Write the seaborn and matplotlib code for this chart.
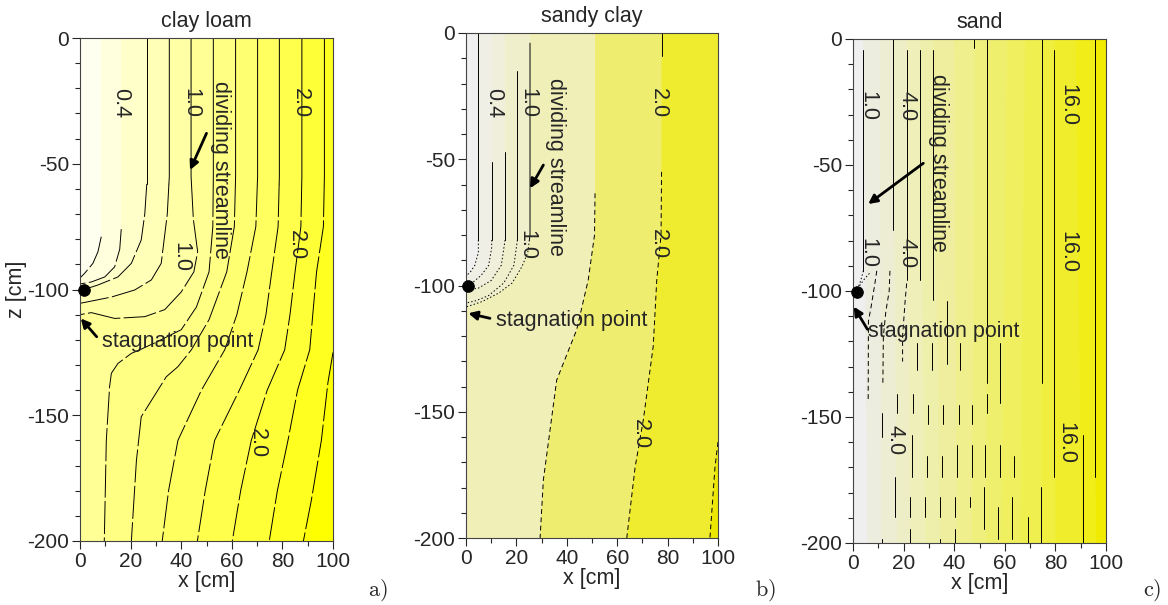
import matplotlib
matplotlib.use("Agg")
import matplotlib.pyplot as plt
import pandas as pd
import seaborn as sns
from matplotlib.ticker import MultipleLocator

# ------------------------------------------------------------------ data
titles = ["clay loam", "sandy clay", "sand"]
tags = ["a)", "b)", "c)"]
x_ticks = [0, 20, 40, 60, 80, 100]
z_ticks = [0, -50, -100, -150, -200]

# a) clay loam: streamlines (x [cm], z [cm]), ordered right -> left
clay_x = [
    [100, 98, 95.4, 91.4, 88.3],
    [96.6, 96.6, 96.2, 93.5, 92.0, 90.8, 86.0, 82.2, 78.0, 74.8],
    [87.7, 87.7, 87.3, 85.0, 83.0, 80.9, 74.0, 67.7, 63.5, 60.2],
    [78.8, 78.8, 78.3, 75.8, 73.5, 70.4, 63.0, 53.2, 49.5, 46.4],
    [70.2, 70.2, 69.5, 66.0, 62.0, 57.2, 48.0, 38.7, 35.0, 32.5],
    [61.5, 61.5, 61.0, 58.0, 51.0, 44.0, 38.7, 34.1, 30.8, 27.5, 24.2, 22.3, 20.3],
    [52.7, 52.7, 52.5, 51.0, 46.0, 40.0, 30.0, 23.6, 20.3, 15.0, 12.4, 11.7, 10.4, 9.6],
    [43.9, 43.9, 44.8, 46.5, 45.0, 40.0, 33.5, 25.6, 13.7, 4.5, 0.0],
    [35.3, 35.3, 34.5, 32.1, 28.2, 21.6, 12.4, 5.0, 0.0],
    [26.4, 26.4, 25.6, 24.2, 20.3, 15.0, 7.1, 1.6],
    [16.3, 15.7, 13.7, 9.8, 4.5, 0.0],
    [8.4, 7.1, 5.1, 1.8, 0.0],
]
clay_z = [
    [-125, -137, -160, -184, -200],
    [0, -55, -75, -93, -110, -124, -140, -160, -180, -200],
    [0, -55, -75, -93, -110, -124, -140, -160, -180, -200],
    [0, -55, -75, -93, -110, -124, -140, -160, -180, -200],
    [0, -55, -75, -93, -110, -124, -140, -160, -180, -200],
    [0, -55, -75, -93, -112, -124, -130.7, -134.7, -140, -145.3, -150.6, -168, -200],
    [0, -55, -75, -93, -107, -116, -121, -124, -125.4, -129.4, -133.3, -138.6, -160, -200],
    [0, -55, -72, -85, -93, -101, -108, -110.8, -111.5, -109.2, -110],
    [0, -55, -70, -89.6, -96.2, -100.2, -103, -104.5, -105.5],
    [0, -58, -70, -80.3, -89.6, -95, -98.2, -100],
    [-76, -84, -91, -95, -97, -97.8],
    [-79, -85, -89.6, -93.6, -95.4],
]
clay_labels = ["0.4", "1.0", "2.0", "1.0", "2.0", "2.0"]
clay_label_x = [16.1, 43.8, 87.3, 39.9, 85.6, 70.2]
clay_label_z = [-26, -26, -26, -87, -82.3, -161]

# b) sandy clay
sandy_x = [
    [100, 98.8, 96.8],
    [77.6, 77.4, 75.7, 74.3, 70.4, 67.1, 63.8],
    [77.6, 77.6],
    [51.2, 51.0, 48.5, 43.9, 36.0, 30.7, 29.4],
    [25.4, 25.4, 24.5, 22.2, 18.3, 13.0, 6.3, 0.0],
    [20.4, 20.4, 19.0, 15.0, 9.0, 4.0, 0.0],
    [15.5, 15.5, 14.0, 10.0, 5.0, 0.0],
    [10.2, 10.2, 9.0, 6.0, 3.0, 0.0],
    [4.9, 4.9, 3.5, 1.5, 0.0],
]
sandy_z = [
    [-162, -172, -200],
    [-55, -80, -97.8, -124, -153, -172, -200],
    [0, -9],
    [-63.5, -80, -97.8, -117.6, -137.4, -177, -200],
    [-4, -80, -87, -92.5, -99, -103, -106.4, -108.5],
    [-15, -82, -92, -99, -104, -106, -107],
    [-47, -82, -92, -98, -101, -102],
    [-51, -85, -92, -96, -98.5, -99.5],
    [0, -87, -92, -95, -96],
]
sandy_labels = ["0.4", "1.0", "2.0", "1.0", "2.0", "2.0"]
sandy_label_x = [10.8, 24.7, 76.3, 24.1, 76.3, 69.0]
sandy_label_z = [-27.8, -27.8, -27.8, -84, -83.6, -158.9]

# c) sand: straight streamline pieces (x, top z, bottom z)
sand_seg_x = [4.1, 15.9, 21.2, 26.5, 31.7, 48.0, 53.1, 74.6, 79.6, 95.8, 90.9,
              25.2, 31.1, 37.0, 42.3, 58.2,
              17.3, 23.9, 29.8, 35.7, 41.7, 46.9, 52.9,
              11.3, 23.2, 29.1, 35.1, 41.0, 46.9, 52.2, 58.2, 63.5,
              16.6, 22.6, 28.5, 34.4, 40.4, 46.3, 51.6, 57.5, 62.8, 69.2, 74.4,
              11.3, 22.6, 34.4, 40.4]
sand_seg_top = [-4.4, 0, -4.4, -4.4, -4.4, 0, 0, 0, -4.4, 0, -157.3,
                -120.8, -120.8, -104, -120.8, -120.8,
                -140.7, -140.7, -145.3, -145.3, -145.3, -145.3, -140.7,
                -148.6, -157.3, -165.3, -165.3, -161.3, -161.3, -161.3, -161.3, -165.3,
                -173.9, -181.9, -181.9, -181.9, -181.9, -181.9, -177.9, -185.9, -181.9, -189.8, -177.9,
                -198.5, -194.5, -198.5, -194.5]
sand_seg_bot = [-92, -75.8, -95.6, -95.6, -103.6, -3.7, -136.7, -136.7, -173.9, -173.9, -200,
                -131.4, -131.4, -129, -131.4, -144.6,
                -148.6, -148.6, -152.6, -152.6, -152.6, -152.6, -148.6,
                -158, -173.9, -173.9, -173.9, -173.9, -173.9, -173.9, -173.9, -173.9,
                -189.8, -189.8, -189.8, -189.8, -189.8, -185.9, -194.5, -198.5, -198.5, -200, -200,
                -200, -200, -200, -200]
# c) sand: curved pieces around the sink
sand_curve_x = [[4.1, 3.0, 1.5], [6.5, 4.7, 2.8, 1.5], [9.4, 8.5, 7.2, 6.1, 6.0],
                [14.6, 14.3, 13.0, 12.0, 11.8], [21.2, 20.6, 19.6, 19.6]]
sand_curve_z = [[-92, -96, -100], [-93, -95, -97.6, -100], [-92, -98, -106, -112, -143],
                [-92, -100, -108, -118, -137], [-97, -104, -118, -128]]
sand_band_top = [4.1, 10.5, 15.9, 21.2, 26.5, 31.7, 40, 48, 53.1, 61, 68, 74.6, 79.6, 88, 95.8]
sand_band_bot = [5.7, 11.3, 17.3, 22.6, 28.5, 34.4, 41, 47, 52.5, 58.5, 66, 74.4, 80, 90.4, 96]
sand_labels = ["1.0", "4.0", "16.0", "1.0", "4.0", "16.0", "4.0", "16.0"]
sand_label_x = [6.0, 21.2, 84.8, 6.0, 21.2, 84.8, 16.6, 84.3]
sand_label_z = [-26.5, -26.5, -26.2, -85, -84.8, -84.4, -159.1, -160.4]

# annotations: sink, dividing streamline, stagnation point
sink_x = [1.6, 0.9, 1.5]
sink_z = [-100.2, -100.2, -100.3]
div_text_x = [55.6, 35.6, 33.9]
div_text_z = [-52.5, -53, -49]
div_tail_x = [50.0, 30.7, 27.8]
div_tail_z = [-37.9, -52.3, -49.3]
div_tip_x = [43.5, 25.4, 6.0]
div_tip_z = [-52.5, -61.5, -65.5]
stag_text_x = [8.6, 11.9, 6.0]
stag_text_z = [-120.8, -113.7, -116.1]
stag_tail_x = [6.6, 9.5, 5.7]
stag_tail_z = [-118.8, -113, -115.2]
stag_tip_x = [0.3, 0.9, 0.3]
stag_tip_z = [-111.5, -111, -106.2]

# ------------------------------------------------------------------ style
clay_fill = ["#ffff20", "#ffff38", "#ffff4c", "#ffff60", "#ffff72", "#ffff84",
             "#ffff95", "#ffffa6", "#ffffb8", "#ffffca", "#ffffdd", "#fffff0"]
clay_face = "#ffff00"
sandy_fill = ["#efec30", "#efed70", None, "#f0efb8", "#efefcc", None, "#efefdc", "#efefe6", "#f0f0f0"]
sandy_face = "#ebe700"
sandy_ls = ["dash", "dash", "solid", "dash", "split", "split", "split", "split", "split"]
sand_colors = ["#efefef", "#ececdf", "#ededd3", "#eeeec6", "#efefb9", "#efefac", "#eeee9e",
               "#efef8e", "#efef7e", "#efef6e", "#efef60", "#f0ef50", "#f0ef40", "#f0ee2c",
               "#f0ed18", "#f0eb00"]
sand_curve_ls = ["dot", "dot", "dash", "dash", "dash"]

FS = 15.5
LW = 0.7
DASH = (0, (34, 3.5))
DOT = (0, (1.5, 2.2))
MDASH = (0, (5, 3.5))

sns.set_style("ticks")
plt.rcParams["font.family"] = ["Liberation Sans", "DejaVu Sans"]
plt.rcParams["axes.unicode_minus"] = False
plt.rcParams["mathtext.fontset"] = "cm"

fig = plt.figure(figsize=(11.68, 6.05), dpi=100)
W, H = 1168, 605
boxes = [(80, 38, 333, 541), (466, 33, 718, 538), (853, 39, 1106, 543)]
axes = []
for (l, t, r, b) in boxes:
    axes.append(fig.add_axes([l / W, 1 - b / H, (r - l) / W, (b - t) / H]))


def draw_line(ax, xs, zs, ls):
    df = pd.DataFrame({"x": xs, "z": zs})
    sns.lineplot(data=df, x="x", y="z", sort=False, estimator=None, color="black",
                 lw=LW, linestyle=ls, ax=ax, legend=False)


def draw_split(ax, xs, zs, z_split, ls_low):
    above = [i for i, z in enumerate(zs) if z >= z_split]
    if not above:
        draw_line(ax, xs, zs, ls_low)
        return
    k = above[-1]
    if k == len(zs) - 1:
        draw_line(ax, xs, zs, "-")
        return
    t = (z_split - zs[k]) / (zs[k + 1] - zs[k])
    xi = xs[k] + t * (xs[k + 1] - xs[k])
    draw_line(ax, list(xs[:k + 1]) + [xi], list(zs[:k + 1]) + [z_split], "-")
    draw_line(ax, [xi] + list(xs[k + 1:]), [z_split] + list(zs[k + 1:]), ls_low)


def fill_left(ax, xs, zs, color):
    px = [0, xs[0]] + list(xs) + [0]
    pz = [0, 0] + list(zs) + [zs[-1]]
    ax.fill(px, pz, color=color, lw=0, zorder=0.5)


def style_axes(ax, i):
    ax.set_xlim(0, 100)
    ax.set_ylim(-200, 0)
    ax.set_xticks(x_ticks)
    ax.set_yticks(z_ticks)
    ax.xaxis.set_minor_locator(MultipleLocator(10))
    ax.yaxis.set_minor_locator(MultipleLocator(10))
    ax.tick_params(which="major", direction="out", length=6, width=0.8, labelsize=15, pad=2)
    ax.tick_params(which="minor", direction="out", length=3.5, width=0.8)
    for s in ax.spines.values():
        s.set_color("#444444")
        s.set_linewidth(0.8)
        s.set_zorder(5)
    ax.set_xlabel("x [cm]", fontsize=FS, labelpad=0)
    ax.set_ylabel("z [cm]" if i == 0 else "", fontsize=FS, labelpad=0)
    ax.set_title(titles[i], fontsize=FS, pad=8)


def annotate(ax, i, labels, lx, lz):
    for s, x, z in zip(labels, lx, lz):
        ax.text(x, z, s, rotation=270, ha="center", va="center", fontsize=FS, zorder=4)
    ax.text(div_text_x[i], div_text_z[i], "dividing streamline", rotation=270,
            ha="center", va="center", fontsize=FS, zorder=4)
    ax.annotate("", xy=(div_tip_x[i], div_tip_z[i]), xytext=(div_tail_x[i], div_tail_z[i]),
                arrowprops=dict(arrowstyle="-|>", color="black", lw=2, mutation_scale=13,
                                shrinkA=0, shrinkB=0), zorder=4)
    ax.text(stag_text_x[i], stag_text_z[i], "stagnation point", ha="left", va="center",
            fontsize=FS, zorder=4)
    ax.annotate("", xy=(stag_tip_x[i], stag_tip_z[i]), xytext=(stag_tail_x[i], stag_tail_z[i]),
                arrowprops=dict(arrowstyle="-|>", color="black", lw=2, mutation_scale=13,
                                shrinkA=0, shrinkB=0), zorder=4)
    sns.scatterplot(x=[sink_x[i]], y=[sink_z[i]], s=70, color="black", ax=ax,
                    zorder=6, clip_on=False, legend=False, edgecolor="black")


# ---- a) clay loam
ax = axes[0]
ax.set_facecolor(clay_face)
for xs, zs, c in zip(clay_x, clay_z, clay_fill):
    fill_left(ax, xs, zs, c)
for xs, zs in zip(clay_x, clay_z):
    draw_split(ax, xs, zs, -58, DASH)
annotate(ax, 0, clay_labels, clay_label_x, clay_label_z)
style_axes(ax, 0)

# ---- b) sandy clay
ax = axes[1]
ax.set_facecolor(sandy_face)
for xs, zs, c in zip(sandy_x, sandy_z, sandy_fill):
    if c is not None:
        fill_left(ax, xs, zs, c)
for xs, zs, st in zip(sandy_x, sandy_z, sandy_ls):
    if st == "dash":
        draw_line(ax, xs, zs, MDASH)
    elif st == "solid":
        draw_line(ax, xs, zs, "-")
    else:
        draw_split(ax, xs, zs, -82, DOT)
annotate(ax, 1, sandy_labels, sandy_label_x, sandy_label_z)
style_axes(ax, 1)

# ---- c) sand
ax = axes[2]
ax.set_facecolor(sand_colors[-1])
for i in reversed(range(len(sand_band_top))):
    fill_left(ax, [sand_band_top[i], sand_band_bot[i]], [0, -200], sand_colors[i])
for x, zt, zb in zip(sand_seg_x, sand_seg_top, sand_seg_bot):
    draw_line(ax, [x, x], [zt, zb], "-")
for xs, zs, st in zip(sand_curve_x, sand_curve_z, sand_curve_ls):
    draw_line(ax, xs, zs, DOT if st == "dot" else MDASH)
annotate(ax, 2, sand_labels, sand_label_x, sand_label_z)
style_axes(ax, 2)

for t, px in zip(tags, [378, 765, 1152]):
    fig.text(px / W, 1 - 590 / H, r"$\mathrm{" + t + "}$", ha="center", va="center", fontsize=16)

fig.savefig("out.png", dpi=100)
